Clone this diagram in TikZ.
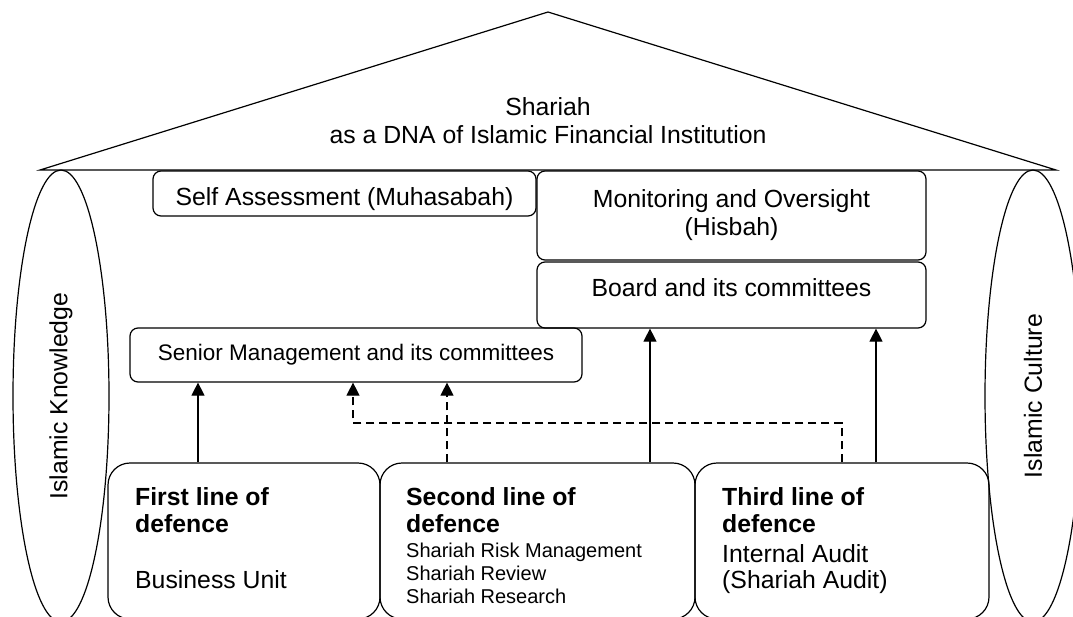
\documentclass[tikz,border=0pt]{standalone}
\usepackage{fontspec}
\setmainfont{Liberation Sans}
\usetikzlibrary{shapes.geometric,arrows.meta,positioning}
\newcommand{\mainsize}{\fontsize{24.8}{28}\selectfont}
\newcommand{\headsize}{\fontsize{24.8}{27}\selectfont\bfseries}
\newcommand{\listsize}{\fontsize{20}{23}\selectfont}
\newcommand{\seniorsize}{\fontsize{22.5}{26}\selectfont}
\tikzset{
  roof/.style={line width=1.2pt},
  pillar/.style={ellipse,draw,line width=1.2pt,minimum width=96pt,minimum height=452pt,inner sep=0pt,font=\mainsize},
  panel/.style={draw,line width=1.2pt,rounded corners=8pt,inner sep=0pt,align=center,font=\mainsize},
  linebox/.style={draw,line width=1.2pt,rounded corners=22pt,inner sep=0pt,minimum height=156pt},
  txt/.style={inner sep=0pt,align=left,anchor=north west},
  up/.style={line width=1.2pt,-{Triangle[width=13pt,length=13pt]}},
  dashup/.style={up,dash pattern=on 8pt off 5pt}
}
\begin{document}
\begin{tikzpicture}[x=1pt,y=-1pt]
\clip (0,0) rectangle (1073,616);
\coordinate (apex) at (548,12);
\coordinate (eaveL) at (40,170);
\coordinate (eaveR) at (1056,170);
\draw[roof] (eaveL) -- (apex) -- (eaveR) -- cycle;
\node[inner sep=0pt,anchor=north,align=center,font=\mainsize] (dna) at (548,97) {Shariah\\as a DNA of Islamic Financial Institution};
\node[pillar] (knowledge) at (61,396) {\rotatebox{90}{Islamic Knowledge}};
\node[pillar] (culture) at (1033,396) {\rotatebox{90}{Islamic Culture}};
\node[panel,minimum width=383pt,minimum height=45pt,text height=23pt,text depth=0pt] (self) at (344.5,193.5) {Self Assessment (Muhasabah)};
\node[panel,minimum width=389pt,minimum height=89pt] (monitor) at (731.5,215.5) {Monitoring and Oversight\\(Hisbah)};
\node[panel,minimum width=389pt,minimum height=66pt,text height=18pt,text depth=16pt] (board) at (731.5,295) {Board and its committees};
\node[panel,minimum width=452pt,minimum height=54pt,font=\seniorsize] (senior) at (356,355) {Senior Management and its committees};
\node[linebox,minimum width=272pt] (first) at (244,541) {};
\node[linebox,minimum width=315pt] (second) at (537.5,541) {};
\node[linebox,minimum width=294pt] (third) at (842,541) {};
\node[txt,font=\headsize] (firsthead) at (135,487) {First line of\\defence};
\node[txt,font=\mainsize,below=38pt of firsthead.south west,anchor=north west] (firstbody) {Business Unit};
\node[txt,font=\headsize] (secondhead) at (406,487) {Second line of\\defence};
\node[txt,font=\listsize,below=10.5pt of secondhead.south west,anchor=north west] (secondbody) {Shariah Risk Management\\Shariah Review\\Shariah Research};
\node[txt,font=\headsize] (thirdhead) at (722,487) {Third line of\\defence};
\node[txt,font=\fontsize{24.8}{26}\selectfont,below=12pt of thirdhead.south west,anchor=north west] (thirdbody) {Internal Audit\\(Shariah Audit)};
\draw[up] (198,0 |- first.north) -- (198,0 |- senior.south);
\draw[dashup] (447,0 |- second.north) -- (447,0 |- senior.south);
\draw[dashup] (842,0 |- third.north) |- (353,423) -- (353,0 |- senior.south);
\draw[up] (650,0 |- second.north) -- (650,0 |- board.south);
\draw[up] (876,0 |- third.north) -- (876,0 |- board.south);
\end{tikzpicture}
\end{document}
